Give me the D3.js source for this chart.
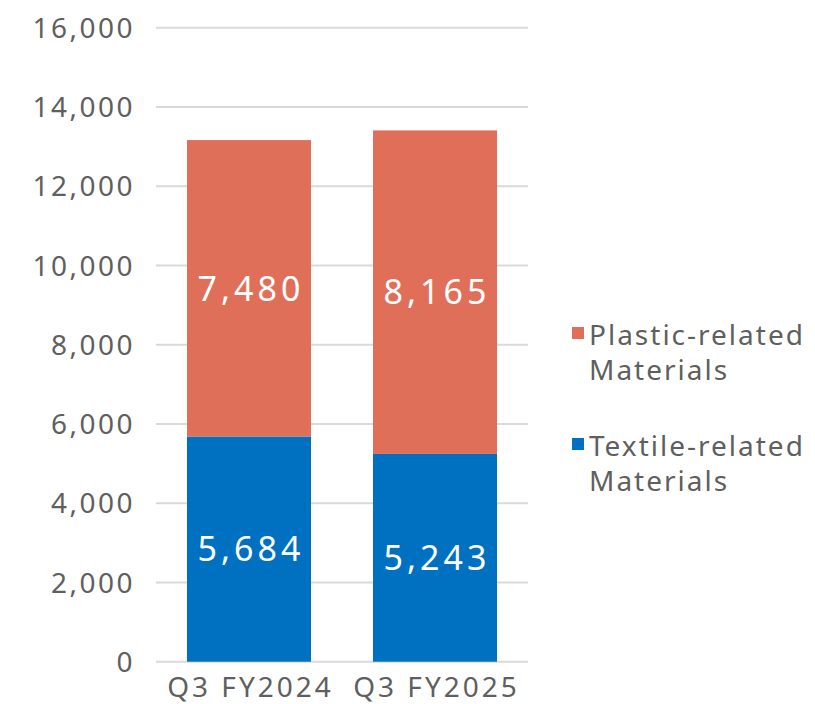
<!DOCTYPE html>
<html>
<head>
<meta charset="utf-8">
<script src="https://cdn.jsdelivr.net/npm/d3@7"></script>
<style>
  body { margin: 0; background: #fff; }
  text { font-family: "Noto Sans", "Open Sans", sans-serif; }
</style>
</head>
<body>
<svg id="chart" width="815" height="704"></svg>
<script>
const categories = ["Q3 FY2024", "Q3 FY2025"];
const textile = [5684, 5243];
const plastic = [7480, 8165];
const yTicks = [0, 2000, 4000, 6000, 8000, 10000, 12000, 14000, 16000];
const seriesNames = ["Plastic-related Materials", "Textile-related Materials"];

const colors = { textile: "#0070C0", plastic: "#E06F5A" };
const grey = "#5f5f5f";

const svg = d3.select("#chart");

const x = d3.scaleBand()
    .domain(categories)
    .range([156, 528])
    .paddingInner(1 / 3)
    .paddingOuter(1 / 6);

const y = d3.scaleLinear()
    .domain([0, 16000])
    .range([661.7, 27.7]);

// gridlines
svg.append("g")
    .selectAll("line")
    .data(yTicks)
    .join("line")
    .attr("x1", 156)
    .attr("x2", 528)
    .attr("y1", d => y(d))
    .attr("y2", d => y(d))
    .attr("stroke", "#d9d9d9")
    .attr("stroke-width", 2);

// y tick labels
svg.append("g")
    .selectAll("text")
    .data(yTicks)
    .join("text")
    .attr("x", 135)
    .attr("y", d => y(d))
    .attr("dy", "0.36em")
    .attr("text-anchor", "end")
    .attr("font-size", 28)
    .attr("letter-spacing", 2.5)
    .attr("fill", grey)
    .text(d => d3.format(",")(d));

const rows = categories.map((c, i) => ({ cat: c, textile: textile[i], plastic: plastic[i] }));
const stack = d3.stack().keys(["textile", "plastic"])(rows);

svg.append("g")
    .selectAll("g")
    .data(stack)
    .join("g")
    .attr("fill", d => colors[d.key])
    .selectAll("rect")
    .data(d => d)
    .join("rect")
    .attr("x", d => x(d.data.cat))
    .attr("width", x.bandwidth())
    .attr("y", d => y(d[1]))
    .attr("height", d => y(d[0]) - y(d[1]));

// value labels
svg.append("g")
    .selectAll("g")
    .data(stack)
    .join("g")
    .selectAll("text")
    .data(d => d.map(p => ({ p, key: d.key })))
    .join("text")
    .attr("x", d => x(d.p.data.cat) + x.bandwidth() / 2 + 2)
    .attr("y", d => y((d.p[0] + d.p[1]) / 2))
    .attr("dy", "0.36em")
    .attr("text-anchor", "middle")
    .attr("font-size", 34)
    .attr("letter-spacing", 4)
    .attr("fill", "#fff")
    .text(d => d3.format(",")(d.p.data[d.key]));

// x labels
svg.append("g")
    .selectAll("text")
    .data(categories)
    .join("text")
    .attr("x", d => x(d) + x.bandwidth() / 2 + 1.5)
    .attr("y", 697)
    .attr("text-anchor", "middle")
    .attr("font-size", 28)
    .attr("letter-spacing", 3)
    .attr("fill", grey)
    .text(d => d);

// legend
const legend = svg.append("g")
    .selectAll("g")
    .data([
        { name: seriesNames[0], color: colors.plastic, y: 345 },
        { name: seriesNames[1], color: colors.textile, y: 456 }
    ])
    .join("g");

legend.append("rect")
    .attr("x", 572)
    .attr("y", d => d.y - 18)
    .attr("width", 12)
    .attr("height", 12)
    .attr("fill", d => d.color);

legend.append("text")
    .attr("x", 589)
    .attr("y", d => d.y)
    .attr("font-size", 28)
    .attr("letter-spacing", 2)
    .attr("fill", grey)
    .selectAll("tspan")
    .data(d => d.name.split(" "))
    .join("tspan")
    .attr("x", 589)
    .attr("dy", (d, i) => i ? 35 : 0)
    .text(d => d);
</script>
</body>
</html>
